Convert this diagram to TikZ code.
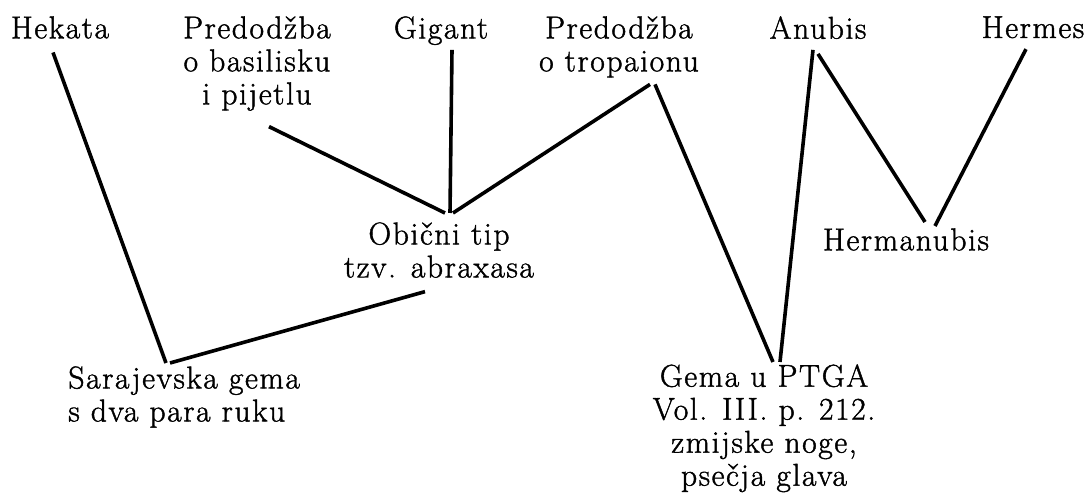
\documentclass[tikz,border=0pt]{standalone}
\usepackage{fontspec}
\setmainfont{Latin Modern Roman}[LetterSpace=5,FakeBold=1.3]
\usepackage{tikz}
\usetikzlibrary{calc}
\tikzset{t/.style={font=\fontsize{15.8}{16.5}\selectfont, align=center, inner sep=0pt}}
\tikzset{v/.style={line width=1.8pt}}

\begin{document}
\begin{tikzpicture}[x=0.5pt,y=-0.5pt,line join=round]
          \useasboundingbox (0,0) rectangle (1084,496);
          % top row
          \node [t, anchor=north] (hek) at (60,16) {Hekata};
          \node [t, anchor=north] (bas) at (257,16) {Predodžba\\o basilisku\\i pijetlu};
          \node [t, anchor=north] (gig) at (441,16) {Gigant};
          \node [t, anchor=north] (tro) at (619,16) {Predodžba\\o tropaionu};
          \node [t, anchor=north] (anu) at (818,16) {Anubis};
          \node [t, anchor=north] (her) at (1033,16) {Hermes};
          % middle and bottom
          \node [t, anchor=north] (obi) at (439,222) {Obični tip\\tzv. abraxasa};
          \node [t, anchor=north] (hmn) at (906,228) {Hermanubis};
          \node [t, anchor=north west, align=left] (sar) at (68,366) {Sarajevska gema\\s dva para ruku};
          \node [t, anchor=north] (gem) at (764,364) {Gema u PTGA\\Vol. III. p. 212.\\zmijske noge,\\psečja glava};
          % connectors
          \draw [v] ([shift={(-7,13.5)}]hek.south) -- ([shift={(98,-3)}]sar.north west);
          \draw [v] ([shift={(102,-3)}]sar.north west) -- ([shift={(-14,13.5)}]obi.south);
          \draw [v] ([shift={(12,15.5)}]bas.south) -- ([shift={(6,-9)}]obi.north);
          \draw [v] ([shift={(11,4.5)}]gig.south) -- ([shift={(11,-9)}]obi.north);
          \draw [v] ([shift={(31,6.5)}]tro.south) -- ([shift={(14,-9)}]obi.north);
          \draw [v] ([shift={(36,6.5)}]tro.south) -- ([shift={(9,-2)}]gem.north);
          \draw [v] ([shift={(-5,10.5)}]anu.south) -- ([shift={(16,-2)}]gem.north);
          \draw [v] ([shift={(0,14.5)}]anu.south) -- ([shift={(19,-6)}]hmn.north);
          \draw [v] ([shift={(-7,10.5)}]her.south) -- ([shift={(29,-2)}]hmn.north);
        \end{tikzpicture}
\end{document}
